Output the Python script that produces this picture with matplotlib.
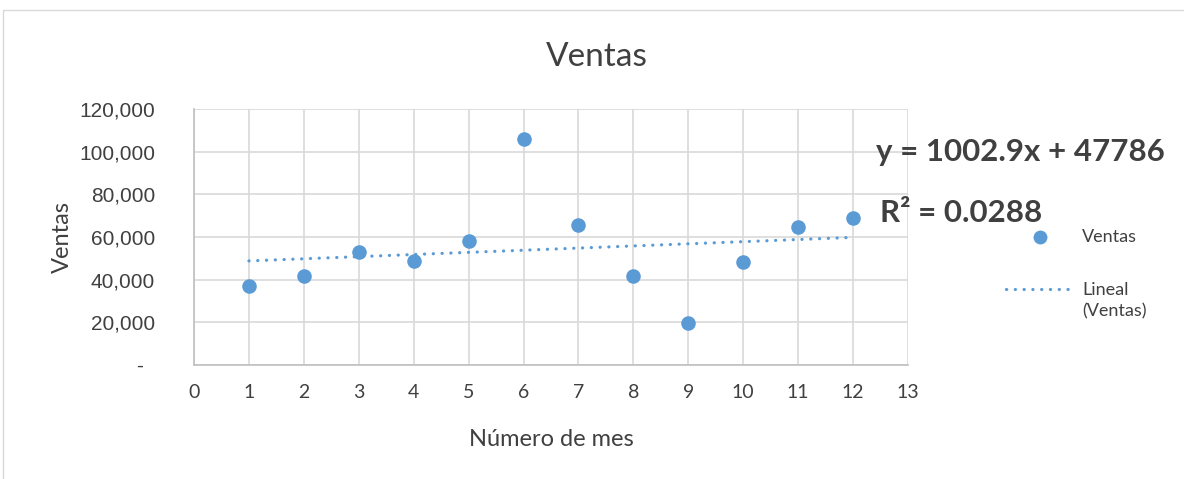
import matplotlib.pyplot as plt
from matplotlib.patches import Rectangle
from matplotlib.lines import Line2D

# monthly sales
meses = [1, 2, 3, 4, 5, 6, 7, 8, 9, 10, 11, 12]
ventas = [37100, 41700, 52800, 48600, 57900, 105900, 65400, 41700, 19500, 48100, 64500, 69000]

# linear trendline as reported
pendiente = 1002.9
intercepto = 47786
r2 = 0.0288

yticks = [0, 20000, 40000, 60000, 80000, 100000, 120000]
ytick_labels = ["-  ", "20,000", "40,000", "60,000", "80,000", "100,000", "120,000"]
xticks = list(range(0, 14))

azul = "#5B9BD5"
gris_txt = "#404040"
punteado = (0, (0.05, 2.7))

fig = plt.figure(figsize=(11.84, 4.79), dpi=100)
# chart border
fig.patches.append(Rectangle((3 / 1184, -0.1), 1.2, 1 - 10 / 479 + 0.1,
                             transform=fig.transFigure, fill=False,
                             edgecolor="#d9d9d9", linewidth=1.0))

ax = fig.add_axes([194 / 1184, 1 - 365 / 479, (908 - 194) / 1184, (365 - 109) / 479])

tx = [meses[0], meses[-1]]
ty = [pendiente * x + intercepto for x in tx]
ax.plot(tx, ty, color=azul, linewidth=2.3, linestyle=punteado,
        dash_capstyle="round", zorder=3)
ax.scatter(meses, ventas, s=110, color=azul, zorder=4, linewidths=0)

ax.set_xlim(0, 13)
ax.set_ylim(0, 120000)
ax.set_xticks(xticks)
ax.set_yticks(yticks)
ax.set_yticklabels(ytick_labels, fontfamily="Liberation Sans", fontsize=15, color=gris_txt)
ax.set_xticklabels([str(t) for t in xticks], fontfamily="Lato", fontsize=14, color=gris_txt)
ax.tick_params(axis="both", length=0)
ax.tick_params(axis="y", pad=28)
ax.tick_params(axis="x", pad=14)
ax.grid(True, color="#d9d9d9", linewidth=1.2)
ax.set_axisbelow(True)
for s in ["top", "right"]:
    ax.spines[s].set_visible(False)
ax.spines["left"].set_color("#bfbfbf")
ax.spines["bottom"].set_color("#bfbfbf")
ax.spines["left"].set_linewidth(1.2)
ax.spines["bottom"].set_linewidth(1.2)

ax.set_xlabel("Número de mes", fontfamily="Lato", fontsize=17, color=gris_txt, labelpad=20)
fig.text(62 / 1184, 1 - 237 / 479, "Ventas", rotation=90, fontfamily="Lato", fontsize=17,
         color=gris_txt, ha="center", va="center")
fig.text(597 / 1184, 1 - 57 / 479, "Ventas", fontfamily="Lato", fontsize=24,
         color=gris_txt, ha="center", va="center")

# trendline equation
fig.text(876 / 1184, 1 - 152 / 479, f"y = {pendiente}x + {intercepto}", fontfamily="Lato",
         fontweight="bold", fontsize=22.5, color=gris_txt, ha="left", va="center")
fig.text(880 / 1184, 1 - 213 / 479, f"R² = {r2}", fontfamily="Lato",
         fontweight="bold", fontsize=22.5, color=gris_txt, ha="left", va="center")

# legend
fig.add_artist(Line2D([1040 / 1184], [1 - 237 / 479], transform=fig.transFigure,
                      marker="o", markersize=10, color=azul, markeredgewidth=0, linestyle="none"))
fig.text(1082 / 1184, 1 - 237 / 479, "Ventas", fontfamily="Lato", fontsize=13,
         color=gris_txt, ha="left", va="center")
fig.add_artist(Line2D([1006 / 1184, 1074 / 1184], [1 - 289 / 479, 1 - 289 / 479],
                      transform=fig.transFigure, color=azul, linewidth=2.3,
                      linestyle=punteado, dash_capstyle="round"))
fig.text(1082 / 1184, 1 - 301 / 479, "Lineal\n(Ventas)", fontfamily="Lato", fontsize=13,
         color=gris_txt, ha="left", va="center", linespacing=1.4)

fig.savefig("out.png", dpi=100)
